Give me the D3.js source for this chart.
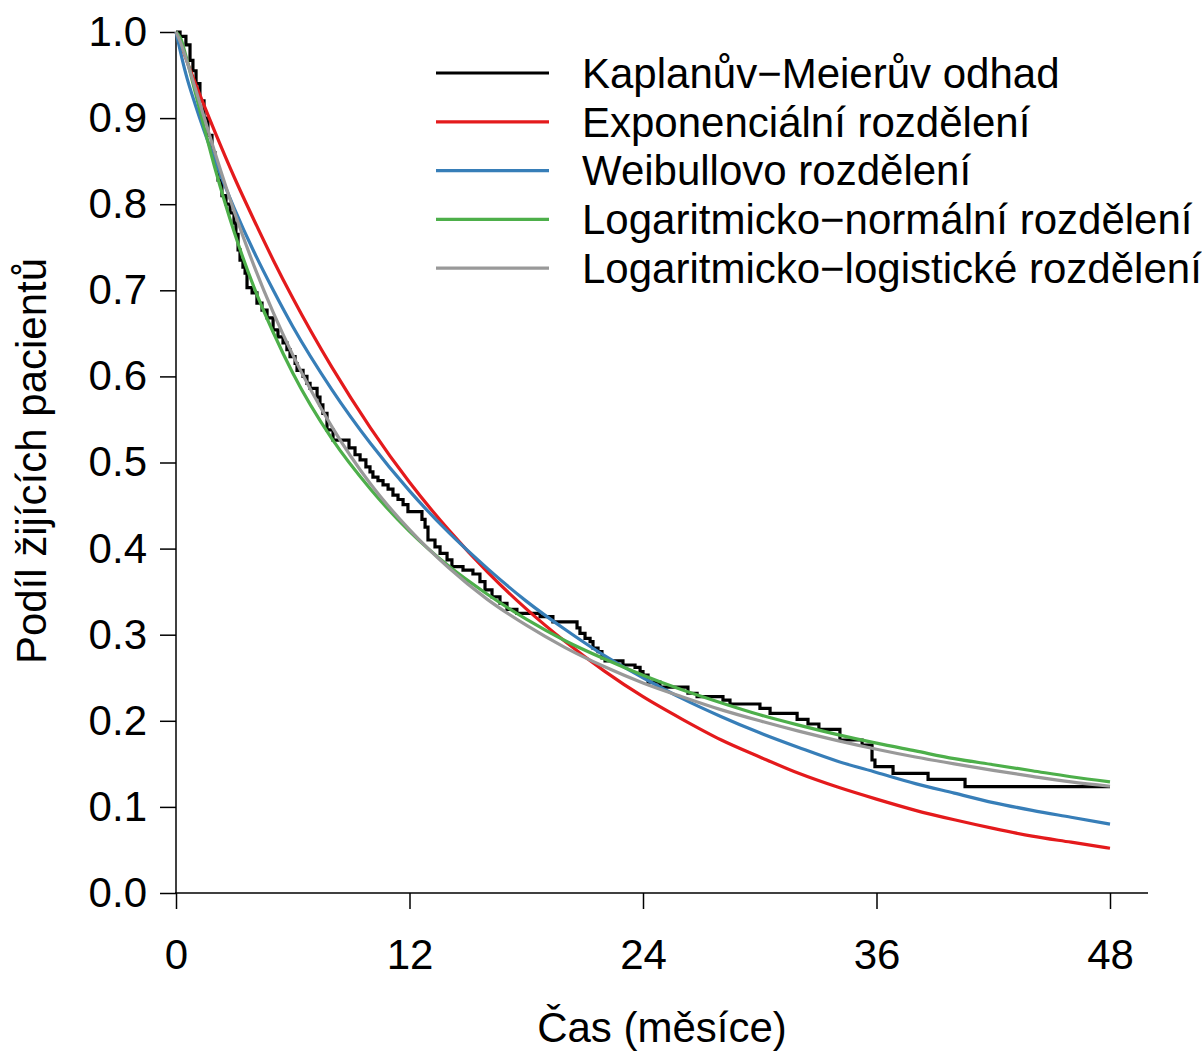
<!DOCTYPE html>
<html>
<head>
<meta charset="utf-8">
<script src="https://cdn.jsdelivr.net/npm/d3@7"></script>
<style>
  html, body { margin: 0; padding: 0; background: #fff; }
  svg text { font-family: "Liberation Sans", Arial, sans-serif; fill: #000; }
</style>
</head>
<body>
<svg id="chart" width="1202" height="1051"></svg>
<script>
// ---- data ----
const xTicks = [0, 12, 24, 36, 48];
const yTicks = [0, 0.1, 0.2, 0.3, 0.4, 0.5, 0.6, 0.7, 0.8, 0.9, 1.0];
const xTitle = "Čas (měsíce)";
const yTitle = "Podíl žijících pacientů";

const seriesNames = [
  "Kaplanův−Meierův odhad",
  "Exponenciální rozdělení",
  "Weibullovo rozdělení",
  "Logaritmicko−normální rozdělení",
  "Logaritmicko−logistické rozdělení"
];
const seriesColors = ["#000000", "#e41a1c", "#377eb8", "#4daf4a", "#999999"];

// Kaplan–Meier step curve: [time, survival]
const kmTime = [0, 0.21, 0.51, 0.72, 0.87, 1.03, 1.23, 1.44, 1.64, 1.85, 2.00, 2.16, 2.36, 2.57, 2.78, 2.98, 3.08, 3.19, 3.29, 3.44, 3.55, 3.65, 3.91, 4.16, 4.42, 4.68, 4.99, 5.24, 5.50, 5.70, 5.86, 6.12, 6.22, 6.53, 6.73, 6.89, 7.25, 7.40, 7.55, 7.76, 8.07, 8.89, 9.20, 9.46, 9.76, 9.97, 10.12, 10.38, 10.64, 10.90, 11.15, 11.41, 11.67, 11.92, 12.64, 12.80, 12.95, 13.31, 13.57, 13.93, 14.18, 14.75, 15.26, 15.62, 15.88, 16.24, 16.65, 17.01, 17.52, 18.71, 19.37, 20.61, 20.76, 21.02, 21.28, 21.43, 21.69, 21.89, 22.05, 22.97, 23.59, 23.85, 24.00, 24.26, 24.87, 26.31, 26.78, 28.11, 28.47, 30.01, 30.53, 31.92, 32.48, 33.04, 34.12, 35.26, 35.77, 35.92, 36.85, 38.65, 40.55, 48];
const kmSurv = [1.0, 0.995, 0.985, 0.967, 0.955, 0.94, 0.92, 0.90, 0.88, 0.86, 0.845, 0.828, 0.81, 0.80, 0.79, 0.778, 0.765, 0.747, 0.735, 0.727, 0.72, 0.703, 0.697, 0.685, 0.677, 0.668, 0.654, 0.646, 0.639, 0.631, 0.623, 0.615, 0.607, 0.60, 0.592, 0.586, 0.576, 0.567, 0.557, 0.538, 0.526, 0.517, 0.509, 0.503, 0.495, 0.489, 0.483, 0.479, 0.474, 0.469, 0.462, 0.457, 0.451, 0.443, 0.434, 0.425, 0.41, 0.402, 0.3945, 0.387, 0.379, 0.375, 0.3705, 0.3616, 0.352, 0.344, 0.3365, 0.3295, 0.3248, 0.321, 0.315, 0.308, 0.3016, 0.2958, 0.2919, 0.2845, 0.2803, 0.273, 0.2695, 0.2648, 0.2621, 0.257, 0.253, 0.245, 0.239, 0.232, 0.228, 0.224, 0.2195, 0.2145, 0.2087, 0.2017, 0.1963, 0.1901, 0.1777, 0.1719, 0.1545, 0.1467, 0.139, 0.132, 0.1235, 0.1235];

// Fitted parametric curves, sampled at these times
const fitTime = [0, 0.25, 0.5, 1, 2, 3, 4, 5, 6, 8, 10, 12, 14, 16, 18, 20, 22, 24, 26, 28, 30, 32, 34, 36, 38, 40, 42, 44, 46, 48];
const expSurv = [1, 0.985, 0.970, 0.940, 0.884, 0.831, 0.782, 0.735, 0.691, 0.611, 0.540, 0.477, 0.422, 0.373, 0.330, 0.292, 0.258, 0.228, 0.202, 0.178, 0.158, 0.139, 0.123, 0.109, 0.096, 0.085, 0.075, 0.066, 0.059, 0.052];
const weibullSurv = [1, 0.975, 0.952, 0.915, 0.851, 0.795, 0.745, 0.700, 0.658, 0.585, 0.522, 0.467, 0.419, 0.377, 0.339, 0.306, 0.276, 0.250, 0.226, 0.205, 0.186, 0.169, 0.153, 0.140, 0.127, 0.116, 0.105, 0.096, 0.088, 0.080];
const lognormSurv = [1, 0.992, 0.973, 0.929, 0.842, 0.767, 0.704, 0.651, 0.604, 0.528, 0.469, 0.420, 0.380, 0.347, 0.318, 0.293, 0.272, 0.253, 0.236, 0.221, 0.207, 0.195, 0.184, 0.174, 0.165, 0.156, 0.149, 0.142, 0.135, 0.129];
const loglogSurv = [1, 0.987, 0.970, 0.934, 0.860, 0.791, 0.729, 0.674, 0.625, 0.542, 0.475, 0.422, 0.378, 0.341, 0.311, 0.285, 0.263, 0.244, 0.228, 0.213, 0.200, 0.188, 0.177, 0.167, 0.158, 0.150, 0.1425, 0.1355, 0.129, 0.124];

// ---- layout ----
const svg = d3.select("#chart");
const x = d3.scaleLinear().domain([0, 48]).range([176, 1110]);
const y = d3.scaleLinear().domain([0, 1]).range([893, 32]);
const FS = 42;
const LW = 3.2;

// axes
const xAxis = svg.append("g").attr("transform", "translate(0,893)")
  .call(d3.axisBottom(x).tickValues(xTicks).tickSize(16).tickSizeOuter(0).tickPadding(30).tickFormat(d3.format("d")));
xAxis.select(".domain").remove();
xAxis.selectAll("line").attr("stroke", "#000").attr("stroke-width", 1.5);
xAxis.selectAll("text").attr("font-size", FS).attr("font-family", "Liberation Sans, Arial, sans-serif").attr("fill", "#000");
svg.append("line").attr("x1", 175).attr("x2", 1148).attr("y1", 893).attr("y2", 893)
  .attr("stroke", "#000").attr("stroke-width", 1.5);

const yAxis = svg.append("g").attr("transform", "translate(176,0)")
  .call(d3.axisLeft(y).tickValues(yTicks).tickSize(16).tickSizeOuter(0).tickPadding(13).tickFormat(d3.format(".1f")));
yAxis.select(".domain").remove();
yAxis.selectAll("line").attr("stroke", "#000").attr("stroke-width", 1.5);
yAxis.selectAll("text").attr("font-size", FS).attr("font-family", "Liberation Sans, Arial, sans-serif").attr("fill", "#000");
svg.append("line").attr("x1", 176).attr("x2", 176).attr("y1", 32).attr("y2", 894)
  .attr("stroke", "#000").attr("stroke-width", 1.5);

// titles
svg.append("text").attr("x", 662).attr("y", 1042).attr("text-anchor", "middle")
  .attr("font-size", FS).text(xTitle);
svg.append("text").attr("transform", "translate(46,461) rotate(-90)").attr("text-anchor", "middle")
  .attr("font-size", FS).text(yTitle);

// curves: KM first, then fitted curves in legend order
const kmLine = d3.line().x(d => x(d[0])).y(d => y(d[1])).curve(d3.curveStepAfter);
svg.append("path").datum(kmTime.map((t, k) => [t, kmSurv[k]]))
  .attr("d", kmLine).attr("fill", "none").attr("stroke", seriesColors[0])
  .attr("stroke-width", LW).attr("stroke-linejoin", "miter");

const fitLine = d3.line().x(d => x(d[0])).y(d => y(d[1])).curve(d3.curveMonotoneX);
const fits = [expSurv, weibullSurv, lognormSurv, loglogSurv];
fits.forEach((vals, i) => {
  svg.append("path").datum(fitTime.map((t, k) => [t, vals[k]]))
    .attr("d", fitLine).attr("fill", "none")
    .attr("stroke", seriesColors[i + 1]).attr("stroke-width", LW);
});

// legend
const legend = svg.append("g");
seriesNames.forEach((name, i) => {
  const ly = 73 + i * 48.8;
  legend.append("line").attr("x1", 436).attr("x2", 549).attr("y1", ly).attr("y2", ly)
    .attr("stroke", seriesColors[i]).attr("stroke-width", LW);
  legend.append("text").attr("x", 582).attr("y", ly).attr("dy", "0.35em")
    .attr("font-size", FS).text(name);
});
</script>
</body>
</html>
